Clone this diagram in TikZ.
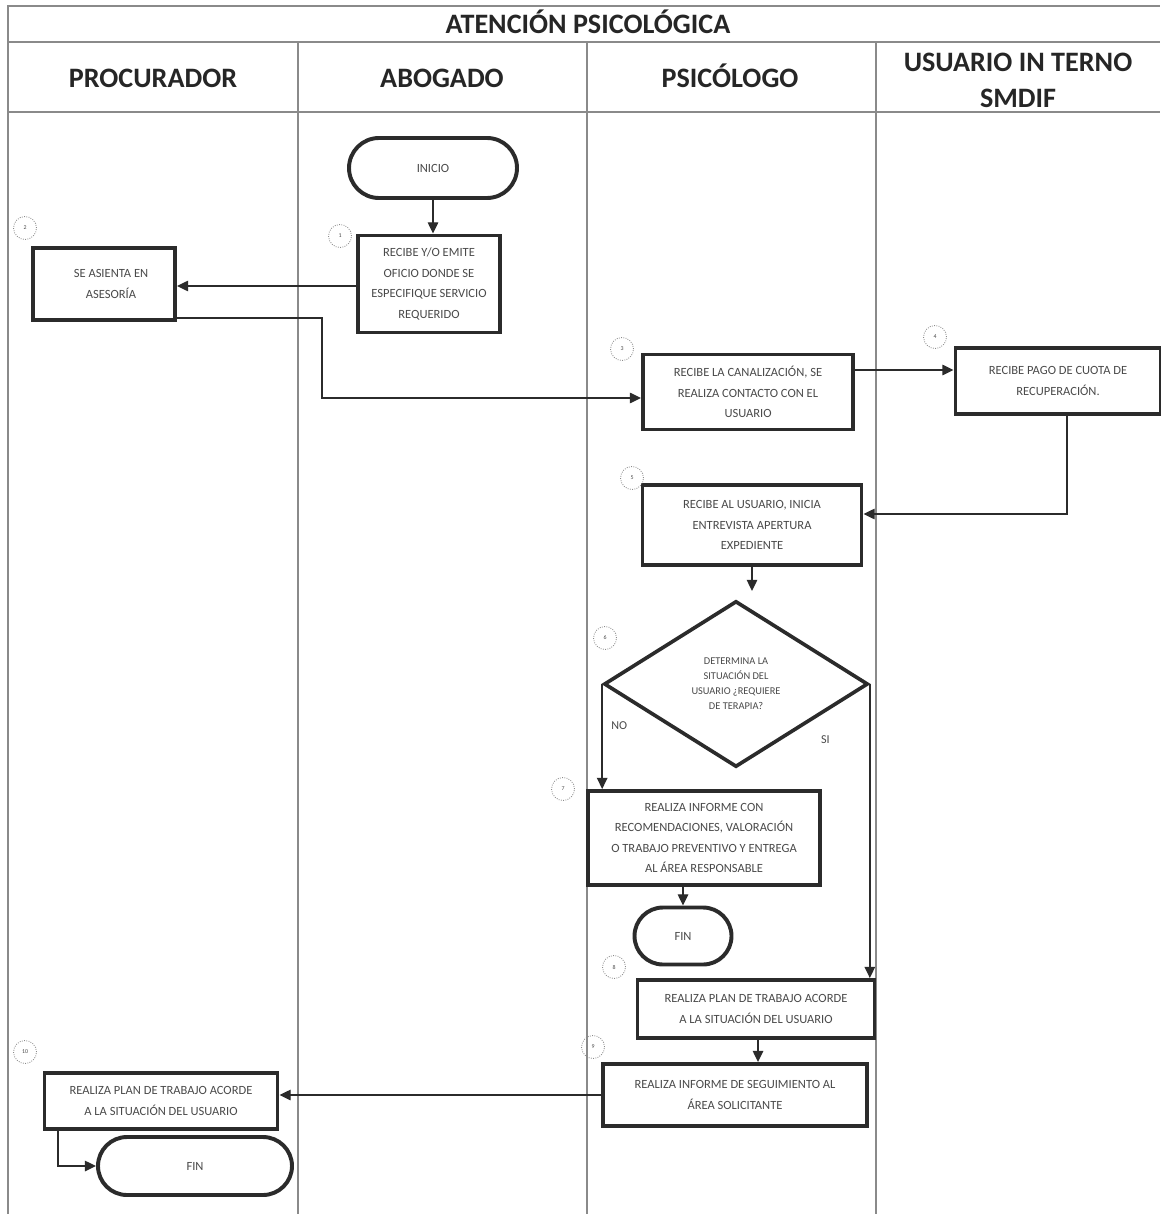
\documentclass[tikz,border=0pt]{standalone}
\usepackage{fontspec}
\setmainfont{Carlito}
\usetikzlibrary{arrows.meta,shapes.geometric,shapes.misc}

\definecolor{rule}{HTML}{8A8A8A}
\definecolor{ink}{HTML}{2B2B2B}
\definecolor{txt}{HTML}{4A4A4A}
\definecolor{head}{HTML}{262626}

\tikzset{
  every node/.style={inner sep=0pt},
  lane/.style={draw=rule, line width=0.9pt},
  headtxt/.style={font=\fontsize{20}{25.5}\selectfont\bfseries, text=head, align=center,
    text height=14pt, text depth=4pt},
  stepbox/.style={draw=ink, line width=2.8pt, fill=white, align=center, text=txt,
    font=\fontsize{8.9}{14.5}\selectfont},
  endcap/.style={draw=ink, line width=2.8pt, fill=white, rounded rectangle, align=center,
    text=txt, font=\fontsize{8.9}{14.5}\selectfont},
  choice/.style={draw=ink, line width=2.6pt, fill=white, diamond, align=center, text=txt,
    font=\fontsize{7.4}{10.6}\selectfont},
  flow/.style={draw=ink, line width=1pt, -{Triangle[width=7.5pt,length=8pt]}},
  badge/.style={draw=rule, densely dotted, line width=0.6pt, circle, minimum size=23*0.025cm,
    font=\fontsize{4.2}{5}\selectfont, text=txt},
  lbl/.style={font=\fontsize{8.6}{10}\selectfont, text=txt}
}

\begin{document}
\begin{tikzpicture}[x=0.025cm, y=-0.025cm]
\useasboundingbox (0,0) rectangle (1160,1214);
\fill[white] (0,0) rectangle (1160,1214);

% swimlane table
\draw[lane] (8,1214) -- (8,6) -- (1160,6);
\draw[lane] (8,42) -- (1160,42);
\draw[lane] (8,112) -- (1160,112);
\foreach \xx in {298,587,876} \draw[lane] (\xx,42) -- (\xx,1214);

\node[headtxt] (title) at (588,26) {ATENCIÓN PSICOLÓGICA};
\node[headtxt] (h1) at (153,80) {PROCURADOR};
\node[headtxt] (h2) at (442,80) {ABOGADO};
\node[headtxt] (h3) at (730,80) {PSICÓLOGO};
\node[headtxt, text height=, text depth=] (h4) at (1018,80) {USUARIO IN TERNO\\SMDIF};

% process steps
\node[endcap, minimum width=168*0.025cm, minimum height=60*0.025cm] (inicio) at (433,168) {INICIO};
\node[stepbox, minimum width=142*0.025cm, minimum height=97*0.025cm] (b1) at (429,284)
  {RECIBE Y/O EMITE\\OFICIO DONDE SE\\ESPECIFIQUE SERVICIO\\REQUERIDO};
\node[stepbox, minimum width=142*0.025cm, minimum height=72*0.025cm] (b2) at (104,284)
  {\hspace*{10pt}SE ASIENTA EN\\\hspace*{10pt}ASESORÍA};
\node[stepbox, minimum width=210*0.025cm, minimum height=75*0.025cm] (b3) at (748,392)
  {RECIBE LA CANALIZACIÓN, SE\\REALIZA CONTACTO CON EL\\USUARIO};
\node[stepbox, minimum width=205*0.025cm, minimum height=66*0.025cm] (b4) at (1058,381)
  {RECIBE PAGO DE CUOTA DE\\RECUPERACIÓN.};
\node[stepbox, minimum width=219*0.025cm, minimum height=80*0.025cm] (b5) at (752,525)
  {RECIBE AL USUARIO, INICIA\\ENTREVISTA APERTURA\\EXPEDIENTE};
\node[choice, minimum width=264*0.025cm, minimum height=166*0.025cm] (d6) at (736,684)
  {DETERMINA LA\\SITUACIÓN DEL\\USUARIO ¿REQUIERE\\DE TERAPIA?};
\node[stepbox, minimum width=232*0.025cm, minimum height=94*0.025cm] (b7) at (704,838)
  {REALIZA INFORME CON\\RECOMENDACIONES, VALORACIÓN\\O TRABAJO PREVENTIVO Y ENTREGA\\AL ÁREA RESPONSABLE};
\node[endcap, minimum width=97*0.025cm, minimum height=57*0.025cm] (fin1) at (683,936) {FIN};
\node[stepbox, minimum width=237*0.025cm, minimum height=58*0.025cm] (b8) at (756,1009)
  {REALIZA PLAN DE TRABAJO ACORDE\\A LA SITUACIÓN DEL USUARIO};
\node[stepbox, minimum width=264*0.025cm, minimum height=62*0.025cm] (b9) at (735,1095)
  {REALIZA INFORME DE SEGUIMIENTO AL\\ÁREA SOLICITANTE};
\node[stepbox, minimum width=233*0.025cm, minimum height=56*0.025cm] (b10) at (161,1101)
  {REALIZA PLAN DE TRABAJO ACORDE\\A LA SITUACIÓN DEL USUARIO};
\node[endcap, minimum width=194*0.025cm, minimum height=58*0.025cm] (fin2) at (195,1166) {FIN};

% step numbers
\node[badge] (n1) at (340,236) {1};
\node[badge] (n2) at (25,228) {2};
\node[badge] (n3) at (622,349) {3};
\node[badge] (n4) at (935,337) {4};
\node[badge] (n5) at (632,478) {5};
\node[badge] (n6) at (605,638) {6};
\node[badge] (n7) at (563,789) {7};
\node[badge] (n8) at (614,967) {8};
\node[badge] (n9) at (593,1047) {9};
\node[badge] (n10) at (25,1052) {10};

% connectors
\draw[flow] (inicio.south) -- (inicio.south |- b1.north);
\draw[flow] (b1.west |- 0,286) -- (b2.east |- 0,286);
\draw[flow] (b2.east |- 0,318) -- (322,318) |- (b3.west |- 0,398);
\draw[flow] (b3.east |- 0,370) -- (b4.west |- 0,370);
\draw[flow] (b4.south -| 1067,0) |- (b5.east |- 0,514);
\coordinate (d6top) at (752,591);
\draw[flow] (b5.south -| d6top) -- (d6top);
\draw[flow] (d6.west) -- (b7.north -| d6.west) node[lbl, pos=0.4, right=6pt] {NO};
\draw[flow] (d6.east) -- (b8.north -| d6.east) node[lbl, pos=0.19, left=28pt] {SI};
\draw[flow] (b7.south -| fin1) -- (fin1.north);
\draw[flow] (b8.south -| 758,0) -- (b9.north -| 758,0);
\draw[flow] (b9.west) -- (b10.east |- b9.west);
\draw[flow] (b10.south -| 58,0) |- (fin2.west);

\end{tikzpicture}
\end{document}
